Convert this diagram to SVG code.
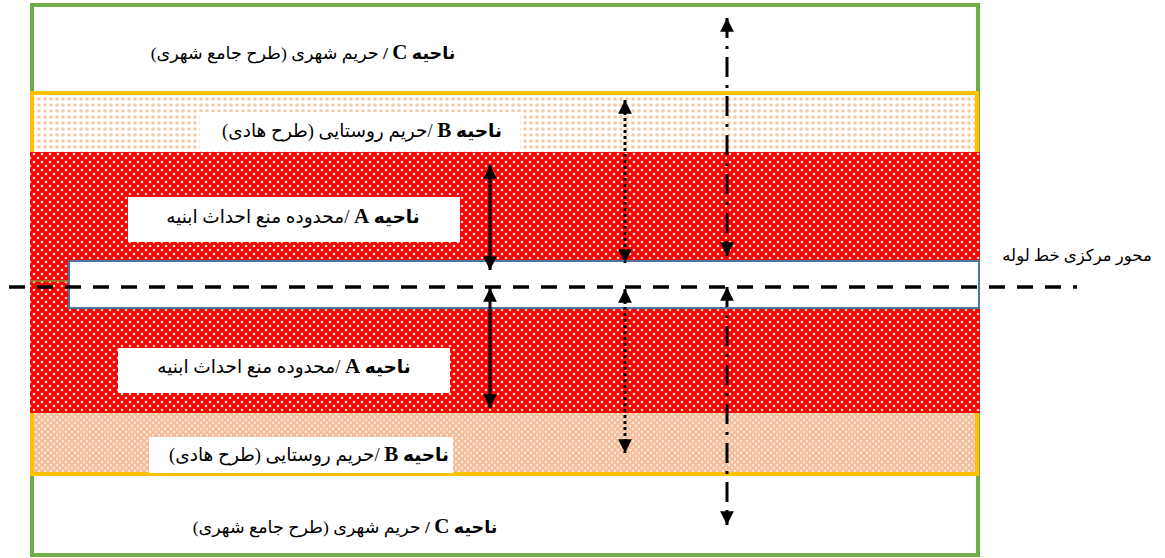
<svg xmlns="http://www.w3.org/2000/svg" width="1165" height="558" viewBox="0 0 1165 558">
<style>
.lbl{font-family:"Liberation Serif","DejaVu Sans",serif;font-size:18.5px;fill:#000;}
.sm{font-size:17.5px;}
.ax{font-size:16.5px;}
.b{font-weight:bold;}
.L{font-size:21px;}
.box{fill:#fff;}
.arr{stroke:#000;stroke-width:3;fill:none;marker-start:url(#ah);marker-end:url(#ah);}
</style>
<defs>
<marker id="ah" viewBox="0 0 10 10" refX="10" refY="5" markerWidth="4.6" markerHeight="5" orient="auto-start-reverse" markerUnits="strokeWidth">
<path d="M0,0 L10,5 L0,10 z" fill="#000"/>
</marker>
<pattern id="pRed" width="8" height="8" patternUnits="userSpaceOnUse">
<rect width="8" height="8" fill="#FF0000"/>
<circle cx="2" cy="2" r="1.3" fill="#FFE0E0"/>
<circle cx="6" cy="6" r="1.3" fill="#FFE0E0"/>
</pattern>
<pattern id="pBtop" width="6" height="6" patternUnits="userSpaceOnUse">
<rect width="6" height="6" fill="#FFFFFF"/>
<circle cx="3" cy="3" r="1.8" fill="#F8C8A8"/>
</pattern>
<pattern id="pBbot" width="6" height="6" patternUnits="userSpaceOnUse">
<rect width="6" height="6" fill="#F5BA93"/>
<circle cx="0" cy="0" r="1.4" fill="#FCE6D8"/>
<circle cx="6" cy="0" r="1.4" fill="#FCE6D8"/>
<circle cx="0" cy="6" r="1.4" fill="#FCE6D8"/>
<circle cx="6" cy="6" r="1.4" fill="#FCE6D8"/>
<circle cx="3" cy="3" r="1.4" fill="#FCE6D8"/>
</pattern>
</defs>
<rect width="1165" height="558" fill="#fff"/>

<g id="zoneC">
<rect x="32" y="5" width="946" height="550" fill="#fff" stroke="#70AD47" stroke-width="4"/>
</g>
<g id="zoneB">
<rect x="32" y="93" width="945" height="60" fill="url(#pBtop)"/>
<rect x="32" y="412" width="945" height="62" fill="url(#pBbot)"/>
<rect x="32" y="93" width="945" height="381" fill="none" stroke="#FFC000" stroke-width="4"/>
</g>
<g id="zoneA">
<rect x="30" y="152" width="950" height="261" fill="url(#pRed)"/>
</g>
<g id="pipe">
<line x1="30" y1="281" x2="69" y2="281" stroke="#8A8F2E" stroke-width="1.5"/>
<rect x="69" y="261" width="910" height="47" fill="#fff" stroke="#4A76A0" stroke-width="2"/>
</g>

<g id="labelCtop">
<text class="lbl sm" x="303" y="59" text-anchor="middle" direction="rtl"><tspan class="b">ناحیه <tspan class="L">C</tspan> /</tspan>  حریم شهری (طرح جامع شهری)</text>
</g>
<g id="labelBtop">
<rect class="box" x="200" y="112" width="320" height="38"/>
<text class="lbl" x="362" y="137" text-anchor="middle" direction="rtl"><tspan class="b">ناحیه <tspan class="L">B</tspan> </tspan>/حریم روستایی (طرح هادی)</text>
</g>
<g id="labelAtop">
<rect class="box" x="128" y="197" width="332" height="45"/>
<text class="lbl" x="293" y="223" text-anchor="middle" direction="rtl"><tspan class="b">ناحیه <tspan class="L">A</tspan> </tspan>/محدوده منع احداث ابنیه</text>
</g>
<g id="labelAbot">
<rect class="box" x="118" y="348" width="332" height="45"/>
<text class="lbl" x="284" y="373" text-anchor="middle" direction="rtl"><tspan class="b">ناحیه <tspan class="L">A</tspan> </tspan>/محدوده منع احداث ابنیه</text>
</g>
<g id="labelBbot">
<rect class="box" x="149" y="437" width="304" height="36"/>
<text class="lbl" x="309" y="461" text-anchor="middle" direction="rtl"><tspan class="b">ناحیه <tspan class="L">B</tspan> </tspan>/حریم روستایی (طرح هادی)</text>
</g>
<g id="labelCbot">
<text class="lbl sm" x="345" y="533" text-anchor="middle" direction="rtl"><tspan class="b">ناحیه <tspan class="L">C</tspan> /</tspan>  حریم شهری (طرح جامع شهری)</text>
</g>
<g id="axisLabel">
<text class="lbl ax" x="1077" y="261" text-anchor="middle" direction="rtl">محور مرکزی خط لوله</text>
</g>

<g id="connectors">
<line x1="9" y1="287" x2="1077" y2="287" stroke="#000" stroke-width="3.5" stroke-dasharray="16 12"/>
<line class="arr" x1="490" y1="165" x2="490" y2="270"/>
<line class="arr" x1="490" y1="288" x2="490" y2="408"/>
<line class="arr" x1="625" y1="100" x2="625" y2="263" stroke-dasharray="3 3"/>
<line class="arr" x1="625" y1="289" x2="625" y2="453" stroke-dasharray="3 3"/>
<line class="arr" x1="727" y1="18" x2="727" y2="256" stroke-dasharray="20 8 3 8"/>
<line class="arr" x1="727" y1="287" x2="727" y2="525" stroke-dasharray="20 8 3 8"/>
</g>
</svg>
